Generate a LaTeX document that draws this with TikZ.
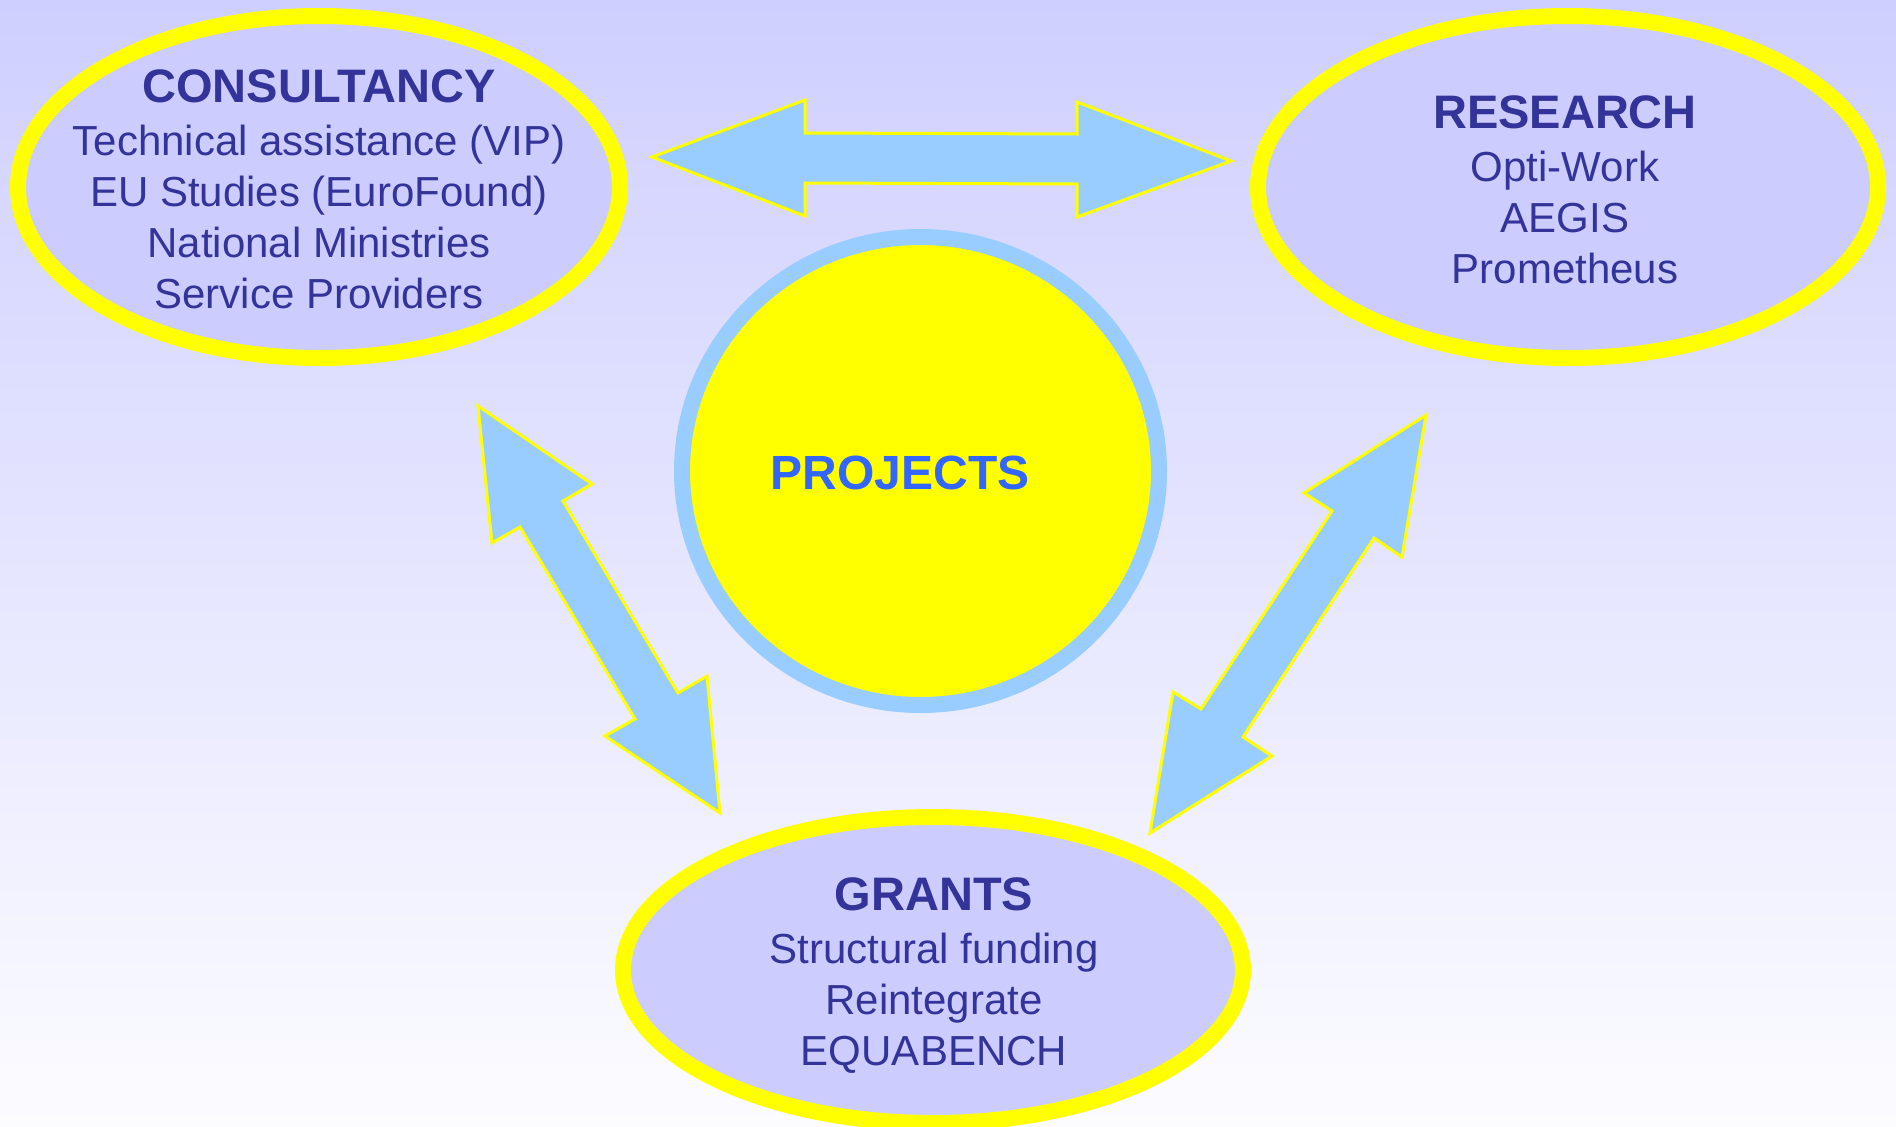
\documentclass[tikz,border=0pt]{standalone}
\usepackage{fontspec}
\setmainfont{Liberation Sans}
\usetikzlibrary{shapes.geometric}
\definecolor{bgtop}{RGB}{207,207,255}
\definecolor{bgbot}{RGB}{252,252,255}
\definecolor{bubblefill}{RGB}{204,204,255}
\definecolor{ringyellow}{RGB}{255,255,0}
\definecolor{navytext}{RGB}{51,51,153}
\definecolor{skyblue}{RGB}{153,204,255}
\definecolor{projblue}{RGB}{51,102,255}
\begin{document}
\begin{tikzpicture}[x=1pt,y=-1pt,
  bubble/.style={ellipse, draw=ringyellow, fill=bubblefill, line width=16pt, inner sep=0pt},
  bubbletext/.style={align=center, text=navytext, font=\fontsize{42}{51}\selectfont, inner sep=0pt},
  blockarrow/.style={fill=skyblue, draw=ringyellow, line width=3pt, line join=miter}]
\path[use as bounding box] (0,0) rectangle (1896,1127);
\clip (0,0) rectangle (1896,1127);
\shade[top color=bgtop, bottom color=bgbot] (0,0) rectangle (1896,1127);

% bubbles
\node[bubble, minimum width=602pt, minimum height=342pt] (cons) at (319,187) {};
\node[bubble, minimum width=620pt, minimum height=342pt] (res) at (1568,187) {};
\node[bubble, minimum width=620pt, minimum height=306pt] (grants) at (933,970) {};
\node[ellipse, draw=skyblue, fill=ringyellow, line width=16pt, minimum width=477pt, minimum height=468pt, inner sep=0pt] (proj) at (920.5,471) {};

% texts
\node[bubbletext] (constext) at (319,189) {{\fontsize{47}{51}\selectfont\bfseries CONSULTANCY}\\[2pt]Technical assistance (VIP)\\EU Studies (EuroFound)\\National Ministries\\Service Providers};
\node[bubbletext] (restext) at (1565,190) {{\fontsize{47}{51}\selectfont\bfseries RESEARCH}\\[2pt]Opti-Work\\AEGIS\\Prometheus};
\node[bubbletext] (granttext) at (934,976) {{\fontsize{47}{51}\selectfont\bfseries GRANTS}\\[2pt]Structural funding\\Reintegrate\\EQUABENCH};
\node[text=projblue, font=\fontsize{48}{56}\selectfont\bfseries, inner sep=0pt] (projtext) at (900,473) {PROJECTS};

% block arrows
\draw[blockarrow] (652,157) -- (805,100) -- (805,133) -- (1077,134) -- (1077,102) -- (1231,161)
  -- (1077,217) -- (1077,184) -- (805,183) -- (805,216) -- cycle;
\draw[blockarrow] (478,406) -- (592,484) -- (563,501) -- (678,693) -- (707,676) -- (720,813)
  -- (605,736) -- (635,719) -- (520,527) -- (492,543) -- cycle;
\draw[blockarrow] (1426,415) -- (1402,557) -- (1374,538) -- (1243,737) -- (1272,756) -- (1150,833)
  -- (1173,692) -- (1201,709) -- (1332,511) -- (1304,493) -- cycle;
\end{tikzpicture}
\end{document}
